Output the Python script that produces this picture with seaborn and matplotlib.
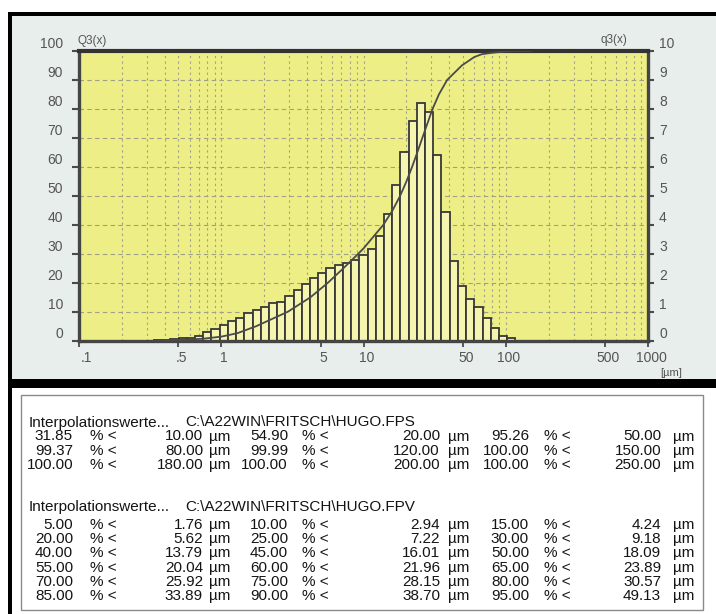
import numpy as np
import pandas as pd
import matplotlib
matplotlib.use("Agg")
import matplotlib.pyplot as plt
import seaborn as sns
from matplotlib.patches import Rectangle
from matplotlib.ticker import FixedLocator, LogLocator, NullFormatter, MultipleLocator
from matplotlib.transforms import ScaledTranslation

# ---------------------------------------------------------------------------
# Data
# ---------------------------------------------------------------------------
# Channel edges of the size classes (µm)
bin_edges = [0.336, 0.384, 0.439, 0.501, 0.573, 0.654, 0.747, 0.853, 0.974,
             1.113, 1.271, 1.452, 1.659, 1.894, 2.164, 2.472, 2.823, 3.225,
             3.683, 4.207, 4.805, 5.489, 6.269, 7.161, 8.179, 9.342, 10.67,
             12.19, 13.92, 15.90, 18.16, 20.75, 23.70, 27.07, 30.92, 35.31,
             40.33, 46.07, 52.62, 60.10, 68.65, 78.42, 89.57, 102.3, 116.9]
# Density distribution q3(x) per channel
q3_values = [0.02, 0.02, 0.05, 0.08, 0.10, 0.16, 0.30, 0.42, 0.55, 0.68,
             0.80, 0.95, 1.06, 1.17, 1.29, 1.34, 1.54, 1.75, 1.95, 2.15,
             2.34, 2.52, 2.60, 2.69, 2.80, 2.95, 3.17, 3.60, 4.39, 5.37,
             6.52, 7.59, 8.20, 7.88, 6.40, 4.45, 2.76, 1.89, 1.43, 1.15,
             0.77, 0.45, 0.17, 0.10]

# Interpolation values, file HUGO.FPS (Q3 % below size)
fps_pct = [31.85, 54.90, 95.26, 99.37, 99.99, 100.00, 100.00, 100.00, 100.00]
fps_size = [10.00, 20.00, 50.00, 80.00, 120.00, 150.00, 180.00, 200.00, 250.00]

# Interpolation values, file HUGO.FPV (size at given Q3 %)
fpv_pct = [5.00, 10.00, 15.00, 20.00, 25.00, 30.00, 40.00, 45.00, 50.00,
           55.00, 60.00, 65.00, 70.00, 75.00, 80.00, 85.00, 90.00, 95.00]
fpv_size = [1.76, 2.94, 4.24, 5.62, 7.22, 9.18, 13.79, 16.01, 18.09,
            20.04, 21.96, 23.89, 25.92, 28.15, 30.57, 33.89, 38.70, 49.13]

# Further points of the cumulative curve (lower tail and shoulder)
extra_size = [0.35, 0.50, 0.75, 1.00, 1.30, 60.0, 68.0, 100.0]
extra_pct = [0.0, 0.2, 0.7, 1.4, 2.6, 97.9, 98.9, 99.85]

x_tick_values = [0.1, 0.5, 1, 5, 10, 50, 100, 500, 1000]
x_tick_labels = [".1", ".5", "1", "5", "10", "50", "100", "500", "1000"]

file_fps = "C:\\A22WIN\\FRITSCH\\HUGO.FPS"
file_fpv = "C:\\A22WIN\\FRITSCH\\HUGO.FPV"
header = "Interpolationswerte..."

# ---------------------------------------------------------------------------
W, H = 716, 614
sns.set_theme(style="white")
plt.rcParams['font.family'] = ['Liberation Sans', 'DejaVu Sans']

fig = plt.figure(figsize=(W / 100, H / 100), dpi=100)
fig.patch.set_facecolor('white')


def fx(px):
    return px / W


def fy(py):
    return 1 - py / H


def frect(x0, y0, x1, y1, **kw):
    fig.add_artist(Rectangle((fx(x0), fy(y1)), fx(x1) - fx(x0), fy(y0) - fy(y1),
                             transform=fig.transFigure, **kw))


# panel backgrounds and frame
frect(10, 13, 716, 381, facecolor='#e8eeeb', edgecolor='none', zorder=0)
frect(8, 12, 716, 15.5, facecolor='black', edgecolor='none', zorder=5)
frect(8, 12, 11.5, 614, facecolor='black', edgecolor='none', zorder=5)
frect(8, 379, 716, 387.5, facecolor='black', edgecolor='none', zorder=5)
frect(21, 395, 703, 610, facecolor='none', edgecolor='#8a8a8a', lw=1.0, zorder=4)

# ---------------------------------------------------------------------------
# Chart axes: bars (q3, right scale) underneath, cumulative curve (Q3) on top
ax_bars = fig.add_axes([fx(79), fy(340.7), fx(648) - fx(79), fy(51) - fy(340.7)])
ax_bars.set_facecolor('#eeee86')
ax_bars.set_xscale('log')

hist_df = pd.DataFrame({
    "size": np.sqrt(np.array(bin_edges[:-1]) * np.array(bin_edges[1:])),
    "q3": q3_values,
})
sns.histplot(data=hist_df, x="size", weights="q3",
             bins=[float(v) for v in np.log10(bin_edges)],
             ax=ax_bars, stat="count", element="bars", fill=True,
             color='#f5f5b0', alpha=1.0, edgecolor='#383838', linewidth=1.3,
             shrink=1.0, zorder=2)

ax_bars.set_xlim(0.1, 1000)
ax_bars.set_ylim(0, 10)
ax_bars.set_xlabel("")
ax_bars.set_ylabel("")

ax_cum = ax_bars.twinx()
curve_df = pd.DataFrame({
    "size": extra_size + fpv_size + fps_size,
    "Q3": extra_pct + fpv_pct + fps_pct,
}).drop_duplicates("size").sort_values("size")
curve_df = curve_df[curve_df["size"] <= 150]
sns.lineplot(data=curve_df, x="size", y="Q3", ax=ax_cum, color='#4a4a4a',
             linewidth=1.3, estimator=None, sort=True, zorder=3)
ax_cum.set_ylim(0, 100)
ax_cum.set_xlim(0.1, 1000)
ax_cum.set_xlabel("")
ax_cum.set_ylabel("")

# grid on the background axes
ax_bars.xaxis.remove_overlapping_locs = False
ax_bars.xaxis.set_major_locator(FixedLocator(x_tick_values))
ax_bars.xaxis.set_minor_locator(LogLocator(base=10, subs=np.arange(1, 10), numticks=20))
ax_bars.xaxis.set_minor_formatter(NullFormatter())
ax_bars.yaxis.set_major_locator(MultipleLocator(1))
ax_bars.set_axisbelow(True)
ax_bars.grid(False)
ax_bars.grid(True, which='minor', axis='x', color='#a0a088', lw=0.8, linestyle=(0, (2, 3)))
ax_bars.grid(True, which='major', axis='y', color='#a0a088', lw=0.8, linestyle=(0, (4, 3)))
ax_bars.tick_params(axis='x', which='minor', length=0)
for s in ax_bars.spines.values():
    s.set_visible(False)

# right axis (q3)
ax_bars.yaxis.tick_right()
ax_bars.tick_params(axis='y', which='major', direction='out', length=4, width=1.5,
                    color='#4a4a4a', labelsize=10, labelcolor='#555555', pad=4,
                    right=True, left=False)
ax_bars.set_yticks(range(0, 11))

# bottom axis
ax_bars.set_xticks(x_tick_values)
ax_bars.set_xticklabels(x_tick_labels)
ax_bars.tick_params(axis='x', which='major', direction='out', length=4, width=1.3,
                    color='#4a4a4a', labelsize=10, labelcolor='#555555', pad=3.5,
                    bottom=True)

# left axis (Q3)
ax_cum.yaxis.tick_left()
ax_cum.set_yticks(range(0, 101, 10))
ax_cum.tick_params(axis='y', direction='out', length=5, width=1.5, color='#4a4a4a',
                   labelsize=10, labelcolor='#555555', pad=6.5, left=True, right=False)
ax_cum.tick_params(axis='x', which='both', bottom=False, top=False,
                   labelbottom=False)

for name, s in ax_cum.spines.items():
    s.set_visible(True)
    s.set_color('#454545')
    s.set_linewidth(2.4)
ax_cum.spines['top'].set_linewidth(3.0)
ax_cum.spines['top'].set_color('#333333')

# lift the y tick labels slightly above their ticks
lift = ScaledTranslation(0, 0.085, fig.dpi_scale_trans)
for lab in ax_cum.get_yticklabels() + ax_bars.get_yticklabels():
    lab.set_transform(lab.get_transform() + lift)
shift = ScaledTranslation(0.03, 0, fig.dpi_scale_trans)
for lab in ax_bars.get_xticklabels():
    lab.set_transform(lab.get_transform() + shift)
first = ax_bars.get_xticklabels()[0]
first.set_transform(first.get_transform() + ScaledTranslation(0.04, 0, fig.dpi_scale_trans))

# axis captions
fig.text(fx(78), fy(41), "Q3(x)", fontsize=8.5, color='#555555', ha='left', va='center')
fig.text(fx(627), fy(40), "q3(x)", fontsize=8.5, color='#555555', ha='right', va='center')
fig.text(fx(671), fy(373), "[µm]", fontsize=8, color='#555555', ha='center', va='center')

# ---------------------------------------------------------------------------
# Interpolation table
txt_kw = dict(fontsize=11, color='#141414', va='center')
num_right = [73, 288, 529]      # right edge of the percentage columns
pct_left = [90, 302, 544]       # "% <" columns
size_right = [203, 440, 661]    # right edge of the size columns
um_left = [209, 448, 673]       # "µm" columns


def table_block(y_head, y_first, pcts, sizes, fname):
    fig.text(fx(29), fy(y_head), header, ha='left', **txt_kw)
    fig.text(fx(185), fy(y_head), fname, ha='left', **txt_kw)
    for i in range(len(pcts)):
        row, col = divmod(i, 3)
        y = y_first + row * 14.2
        fig.text(fx(num_right[col]), fy(y), f"{pcts[i]:.2f}", ha='right', **txt_kw)
        fig.text(fx(pct_left[col]), fy(y), "% <", ha='left', **txt_kw)
        fig.text(fx(size_right[col]), fy(y), f"{sizes[i]:.2f}", ha='right', **txt_kw)
        fig.text(fx(um_left[col]), fy(y), "µm", ha='left', **txt_kw)


table_block(422.5, 436.5, fps_pct, fps_size, file_fps)
table_block(507, 525, fpv_pct, fpv_size, file_fpv)

fig.savefig("out.png", dpi=100, facecolor=fig.get_facecolor())
